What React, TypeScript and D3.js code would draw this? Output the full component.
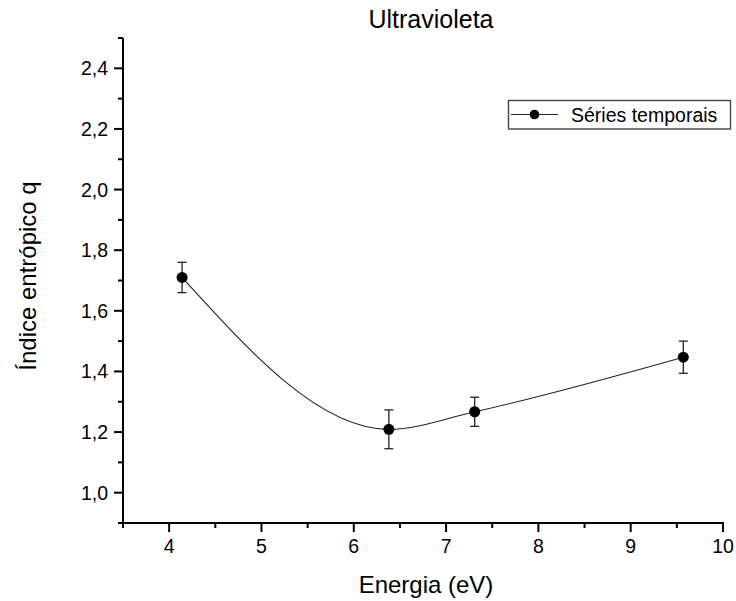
import React from "react";
import * as d3 from "d3";

const energies = [4.14, 6.38, 7.31, 9.57];
const qValues = [1.71, 1.209, 1.267, 1.447];
const qErrors = [0.05, 0.064, 0.048, 0.053];
const xTicks = [4, 5, 6, 7, 8, 9, 10];
const yTicks = [1.0, 1.2, 1.4, 1.6, 1.8, 2.0, 2.2, 2.4];
const xMinorTicks = [3.5, 4.5, 5.5, 6.5, 7.5, 8.5, 9.5];
const yMinorTicks = [0.9, 1.1, 1.3, 1.5, 1.7, 1.9, 2.1, 2.3, 2.5];
const title = "Ultravioleta";
const xLabel = "Energia (eV)";
const yLabel = "Índice entrópico q";
const seriesName = "Séries temporais";

const W = 736;
const H = 601;
const left = 123;
const right = 723;
const top = 38;
const bottom = 523;
const font = "Arial, 'Liberation Sans', sans-serif";

export default function App() {
  const x = d3.scaleLinear().domain([3.5, 10]).range([left, right]);
  const y = d3.scaleLinear().domain([0.9, 2.5]).range([bottom, top]);
  const pts: [number, number][] = energies.map((e, i) => [x(e), y(qValues[i])]);
  const line = d3.line().curve(d3.curveMonotoneX)(pts) || "";
  const fmt = (v: number) => v.toFixed(1).replace(".", ",");

  return (
    <svg
      width={W}
      height={H}
      style={{ position: "absolute", left: 0, top: 0, background: "#fff" }}
      fontFamily={font}
    >
      <rect x={0} y={0} width={W} height={H} fill="#fff" />
      <text x={431} y={28} textAnchor="middle" fontSize={25} fill="#000">
        {title}
      </text>
      {/* axes */}
      <line x1={left} x2={left} y1={top} y2={bottom + 1} stroke="#000" strokeWidth={2} />
      <line x1={left - 1} x2={right + 1} y1={bottom} y2={bottom} stroke="#000" strokeWidth={2} />
      {yTicks.map((t) => (
        <g key={"yt" + t}>
          <line x1={left - 9} x2={left} y1={y(t)} y2={y(t)} stroke="#000" strokeWidth={2} />
          <text x={108} y={y(t)} dy="0.36em" textAnchor="end" fontSize={19.5} fill="#000">
            {fmt(t)}
          </text>
        </g>
      ))}
      {yMinorTicks.map((t) => (
        <line key={"ym" + t} x1={left - 5} x2={left} y1={y(t)} y2={y(t)} stroke="#000" strokeWidth={2} />
      ))}
      {xTicks.map((t) => (
        <g key={"xt" + t}>
          <line x1={x(t)} x2={x(t)} y1={bottom} y2={bottom + 9} stroke="#000" strokeWidth={2} />
          <text x={x(t)} y={553} textAnchor="middle" fontSize={19.5} fill="#000">
            {t}
          </text>
        </g>
      ))}
      {xMinorTicks.map((t) => (
        <line key={"xm" + t} x1={x(t)} x2={x(t)} y1={bottom} y2={bottom + 5} stroke="#000" strokeWidth={2} />
      ))}
      <text x={426} y={593} textAnchor="middle" fontSize={24} fill="#000">
        {xLabel}
      </text>
      <text
        transform={`translate(36,276) rotate(-90)`}
        textAnchor="middle"
        fontSize={24}
        fill="#000"
      >
        {yLabel}
      </text>
      {/* curve */}
      <path d={line} fill="none" stroke="#222" strokeWidth={1.1} />
      {/* error bars and points */}
      {energies.map((e, i) => {
        const cx = x(e);
        const yt = y(qValues[i] + qErrors[i]);
        const yb = y(qValues[i] - qErrors[i]);
        return (
          <g key={"p" + i}>
            <line x1={cx} x2={cx} y1={yt} y2={yb} stroke="#222" strokeWidth={1.3} />
            <line x1={cx - 4.5} x2={cx + 4.5} y1={yt} y2={yt} stroke="#222" strokeWidth={1.3} />
            <line x1={cx - 4.5} x2={cx + 4.5} y1={yb} y2={yb} stroke="#222" strokeWidth={1.3} />
            <circle cx={cx} cy={y(qValues[i])} r={5.5} fill="#000" />
          </g>
        );
      })}
      {/* legend */}
      <rect x={508.5} y={100.5} width={222} height={28.5} fill="#fff" stroke="#444" strokeWidth={1.4} />
      <line x1={511} x2={558} y1={114.5} y2={114.5} stroke="#222" strokeWidth={1.1} />
      <circle cx={534.5} cy={114.5} r={4.8} fill="#000" />
      <text x={571} y={122} fontSize={19.5} fill="#000">
        {seriesName}
      </text>
    </svg>
  );
}
